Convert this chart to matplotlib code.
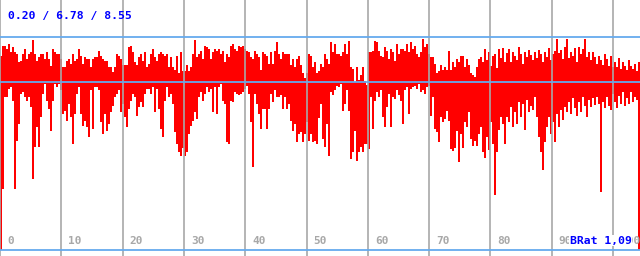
import numpy as np
import matplotlib
matplotlib.use("Agg")
import matplotlib.pyplot as plt

# Upper and lower ends of each column (units: baseline = 0)
highs = [2.6,3.6,3.6,3.3,3.8,3.0,3.5,3.0,2.8,2.0, 2.1,2.8,3.3,2.3,2.8,3.0,4.2,2.8,2.1,2.5,
         2.8,2.8,2.3,3.0,2.3,1.6,3.3,3.0,2.8,2.8, 2.3,1.5,1.5,2.1,2.3,1.8,2.8,2.1,2.3,3.3,
         2.6,1.8,2.5,2.3,2.3,1.5,2.3,2.5,2.5,3.1, 2.6,2.3,2.1,2.1,1.5,1.5,1.0,1.5,2.8,2.6,
         2.3,1.7,1.7,1.7,3.5,3.6,3.0,2.0,1.7,2.5, 2.8,2.1,3.0,1.5,1.8,2.8,3.3,2.5,2.1,2.8,
         3.0,2.8,2.6,2.8,1.5,2.5,1.5,1.2,2.6,0.9, 3.0,1.1,1.1,1.7,1.1,1.5,2.8,4.2,2.5,2.8,
         3.1,2.3,3.6,3.5,3.3,2.3,3.0,3.3,3.1,3.3, 2.8,3.1,2.0,2.8,2.5,3.6,3.8,3.3,3.1,3.6,
         3.5,3.6,3.3,3.1,3.0,2.5,2.3,3.1,2.8,2.5, 1.2,3.0,2.8,2.6,1.8,3.0,1.8,3.1,4.0,2.8,
         2.3,3.0,2.8,2.8,2.8,1.7,2.3,1.5,2.3,2.6, 1.7,0.9,0.4,0.9,2.8,2.6,1.5,2.0,0.9,1.1,
         1.8,1.5,2.8,2.3,1.8,4.0,3.0,3.8,2.8,2.8, 2.6,3.0,3.8,2.8,4.1,1.5,1.3,0.0,1.5,0.2,
         0.7,1.5,0.1,-0.3,3.0,3.0,3.1,4.1,4.0,3.1, 2.6,2.5,3.5,3.1,2.3,3.3,3.0,2.1,3.8,2.8,
         3.3,3.3,3.1,3.8,3.0,4.0,3.3,3.6,2.8,2.5, 3.0,4.3,3.5,3.8,2.8,2.5,2.5,1.8,0.9,1.1,
         1.7,1.2,1.5,1.2,3.1,1.2,2.0,1.5,2.3,2.0, 2.6,2.6,1.5,2.3,1.7,0.9,0.7,0.5,1.5,2.3,
         2.5,2.0,3.3,2.2,3.0,1.6,2.6,2.8,1.4,3.3, 2.4,3.4,2.0,2.9,3.3,2.0,3.0,2.6,2.2,3.5,
         2.8,1.8,3.0,2.5,3.2,2.7,2.2,3.0,2.4,3.2, 2.8,2.0,3.0,2.5,3.4,2.2,2.8,3.1,4.3,2.9,
         3.2,2.3,3.5,4.3,2.4,3.0,2.6,3.4,2.0,3.5, 2.8,3.3,4.3,2.5,3.0,2.2,3.0,2.5,1.8,2.6,
         2.2,1.7,2.8,2.3,1.6,2.6,1.5,2.0,1.5,2.4, 1.3,2.0,1.6,1.2,2.2,1.6,1.3,1.8,1.1,2.0]

lows = [-16.8,-10.7,-1.5,-1.5,-0.7,-0.5,-1.9,-10.7,-5.9,-4.2, -1.2,-1.0,-1.5,-1.9,-1.5,-2.5,-9.7,-6.5,-4.5,-6.5,
        -3.5,-1.2,-0.2,-1.9,-2.7,-4.9,-1.9,-0.2,-0.5,-0.2, -0.8,-3.2,-2.9,-3.9,-2.2,-3.5,-6.2,-3.2,-1.2,-0.5,
        -3.2,-4.4,-3.9,-4.5,-5.5,-0.8,-4.7,-0.5,-0.5,-0.8, -4.0,-5.2,-3.2,-4.9,-4.2,-3.0,-2.4,-1.5,-1.2,-0.8,
        -3.0,-2.2,-3.5,-4.5,-2.7,-1.9,-1.2,-1.5,-3.4,-2.5, -2.0,-2.5,-1.2,-0.7,-0.7,-1.2,-0.5,-3.0,-0.7,-2.7,
        -4.7,-5.5,-1.9,-0.5,-1.5,-1.2,-2.2,-5.0,-6.2,-7.0, -7.4,-6.6,-7.4,-7.0,-5.2,-4.4,-3.9,-3.0,-3.7,-1.5,
        -1.0,-1.9,-1.2,-0.5,-1.0,-0.7,-3.0,-0.5,-3.2,-0.5, -0.2,-1.9,-2.2,-6.0,-6.2,-1.9,-2.0,-1.0,-1.2,-1.3,
        -1.2,-1.0,-0.7,-0.4,-1.2,-4.0,-8.5,-1.2,-2.2,-3.2, -4.7,-2.7,-2.7,-4.7,-2.7,-1.2,-2.0,-0.8,-1.5,-1.5,
        -1.3,-2.7,-1.5,-2.7,-2.2,-3.9,-4.9,-4.2,-6.0,-5.2, -5.0,-6.0,-5.2,-4.0,-5.9,-5.2,-6.0,-5.9,-6.2,-3.6,
        -2.2,-5.7,-6.5,-4.2,-7.4,-1.0,-1.3,-0.8,-0.4,-0.5, -0.2,-2.9,-2.2,-0.8,-2.9,-7.7,-7.0,-4.9,-7.9,-7.0,
        -6.5,-7.0,-6.2,-6.2,-6.7,-1.5,-4.7,-1.9,-1.0,-1.5, -0.8,-3.5,-4.5,-2.5,-1.2,-4.5,-1.5,-1.7,-0.8,-1.3,
        -1.9,-4.2,-0.8,-0.5,-3.2,-0.7,-0.5,-0.4,-0.7,-0.2, -1.0,-0.8,-1.2,-0.5,-0.4,-3.4,-1.5,-4.7,-5.0,-6.0,
        -3.5,-4.0,-3.7,-2.9,-3.9,-6.7,-6.9,-6.6,-4.9,-8.0, -5.2,-6.6,-4.0,-4.5,-3.0,-5.7,-6.4,-5.9,-6.4,-5.2,
        -4.5,-7.0,-7.6,-5.5,-6.8,-4.0,-6.2,-11.3,-7.0,-4.8, -3.5,-4.2,-6.2,-3.5,-4.0,-2.5,-4.5,-3.0,-4.2,-2.0,
        -3.5,-2.2,-4.8,-1.8,-3.0,-2.4,-2.8,-1.5,-3.5,-5.5, -7.0,-8.8,-6.0,-4.5,-3.5,-5.2,-4.0,-6.0,-3.2,-4.5,
        -2.8,-3.8,-2.5,-3.0,-2.0,-3.2,-1.6,-2.6,-3.4,-2.0, -3.0,-1.5,-2.4,-3.5,-1.8,-2.5,-1.6,-2.3,-1.5,-2.2,
        -11.0,-2.0,-2.6,-1.5,-2.4,-2.8,-1.2,-2.0,-2.6,-1.4, -2.2,-1.0,-2.4,-1.6,-2.2,-1.0,-2.0,-1.5,-1.8,-16.8]

x_ticks = [0, 10, 20, 30, 40, 50, 60, 70, 80, 90, 100]
tick_labels = ["0", "10", "20", "30", "40", "50", "60", "70", "80", "90", "100"]
stats_text = "0.20 / 6.78 / 8.55"
brat_text = "BRat 1,09"
x_max = 104.4
upper_ref, base_ref, lower_ref = 4.47, 0.0, -16.83

fig = plt.figure(figsize=(6.4, 2.56), dpi=100)
ax = fig.add_axes([0, 0, 1, 1])
ax.set_xlim(0, x_max)
ax.set_ylim(-17.43, 8.17)
ax.axis("off")

n = len(highs)
step = x_max / n
xs = np.arange(n) * step
hi = np.array(highs)
lo = np.array(lows)
ax.bar(xs, hi - lo, bottom=lo, width=step, align="edge", color="#ff0000",
       linewidth=0, antialiased=False, zorder=2)

for t in x_ticks:
    ax.axvline(t, color="#a8a8a8", lw=1.2, zorder=3)
for yv in (upper_ref, base_ref, lower_ref):
    ax.axhline(yv, color="#66aaee", lw=1.3, zorder=4)

mono = ["DejaVu Sans Mono"]
for t, lab in zip(x_ticks, tick_labels):
    ax.text(t + 1.15, -15.9, lab, family=mono, fontweight="bold", fontsize=8,
            color="#a8a8a8", ha="left", va="center", zorder=5)

ax.text(1.3, 6.6, stats_text, family=mono, fontweight="bold", fontsize=8.2,
        color="#0000ff", ha="left", va="center", zorder=5)
ax.text(103.0, -15.9, brat_text, family=mono, fontweight="bold", fontsize=8.2,
        color="#0000ff", ha="right", va="center", zorder=6,
        bbox=dict(facecolor="white", edgecolor="none", pad=0.5))

fig.savefig("out.png", dpi=100, facecolor="white")
